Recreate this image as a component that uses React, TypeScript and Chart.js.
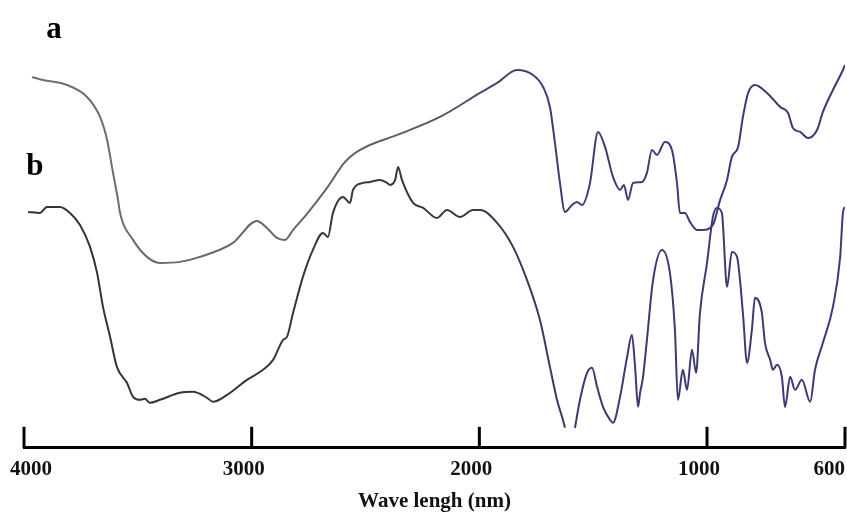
import React, { useEffect, useRef } from "react";
import { Chart, registerables } from "chart.js";

Chart.register(...registerables);

// Wavenumbers (axis labelled as in the source) and transmittance-like values
const waveA = [3965,3917,3811,3723,3666,3635,3609,3587,3578,3521,3460,3403,3315,3227,3082,2977,2933,2889,2854,2818,2757,2669,2590,2524,2349,2173,1997,1922,1835,1764,1720,1690,1668,1646,1624,1593,1571,1549,1514,1479,1448,1413,1382,1365,1347,1325,1286,1264,1242,1220,1185,1154,1132,1119,1097,1075,1044,1018,983,962,942,928,910,896,881,861,826,788,765,751,730,707,681,664,635,606,600];
const transA = [371,368,363,351,331,308,275,248,235,208,191,185,186,191,205,227,220,210,208,218,234,260,286,298,314,331,355,365,378,373,361,341,305,265,236,243,246,243,265,316,301,271,258,263,248,265,266,275,298,293,306,298,265,235,235,226,218,218,223,248,268,291,301,331,355,363,355,341,335,320,316,310,318,336,358,378,383];

const waveB = [3982,3930,3899,3842,3798,3754,3710,3679,3653,3622,3592,3548,3521,3490,3469,3447,3403,3315,3258,3196,3170,3108,3021,2950,2906,2862,2845,2818,2775,2731,2687,2665,2643,2599,2568,2555,2511,2480,2436,2406,2392,2370,2357,2340,2291,2247,2186,2142,2085,2028,1997,1922,1852,1791,1734,1690,1659,1633,1624,1600,1580,1558,1527,1505,1483,1457,1426,1413,1382,1351,1330,1316,1303,1294,1281,1264,1237,1198,1163,1141,1128,1106,1088,1066,1048,1031,1000,983,971,957,942,928,913,896,884,870,861,841,832,817,809,797,783,774,759,745,725,701,687,664,635,614,606,600];
const transB = [236,235,241,241,235,223,201,175,141,111,81,65,51,48,49,45,48,55,56,50,46,53,68,78,88,108,111,135,171,198,215,211,235,251,245,258,265,266,268,265,263,268,281,268,245,240,230,238,231,238,238,225,201,168,128,81,48,28,20,null,20,48,75,80,61,41,28,25,51,91,113,81,41,55,71,108,168,198,175,118,48,78,58,98,75,135,185,231,240,235,161,196,191,135,85,118,150,135,105,88,78,83,71,41,71,58,68,46,78,105,141,191,235,241];

const tickWaves = [4000, 3000, 2000, 1000, 600];
const seriesLabels = ["a", "b"];
const xTitle = "Wave lengh (nm)";

// The printed axis is compressed differently below 1000
const BREAK = 1000;
const LOW_FACTOR = 1.515;
const toAxis = (w: number) => (w >= BREAK ? 4000 - w : 4000 - BREAK + (BREAK - w) * LOW_FACTOR);
const AXIS_MAX = toAxis(600);

const SERIF = '"Liberation Serif", "Times New Roman", serif';

function gradient(chart: any, stops: [number, string][]) {
  const area = chart.chartArea;
  if (!area) return stops[0][1];
  const g = chart.ctx.createLinearGradient(area.left, 0, area.right, 0);
  stops.forEach(([p, c]) => g.addColorStop(p, c));
  return g;
}

const axisPlugin = {
  id: "ftirAxis",
  afterDraw(chart: any) {
    const { ctx, scales } = chart;
    const x = scales.x;
    const y = scales.y;
    const bottom = chart.chartArea.bottom;
    ctx.save();
    ctx.strokeStyle = "#000";
    ctx.lineWidth = 3;
    ctx.fillStyle = "#111";
    ctx.font = `bold 21px ${SERIF}`;
    ctx.textBaseline = "middle";
    ctx.textAlign = "left";
    tickWaves.forEach((w) => {
      const px = x.getPixelForValue(toAxis(w));
      ctx.beginPath();
      ctx.moveTo(px, bottom);
      ctx.lineTo(px, bottom - 21);
      ctx.stroke();
      const label = String(w);
      const tw = ctx.measureText(label).width;
      let left = px - 8 - tw / 2;
      left = Math.max(10, Math.min(left, x.right - tw));
      ctx.fillText(label, left, bottom + 22);
    });
    // series labels
    ctx.font = `bold 31px ${SERIF}`;
    ctx.textBaseline = "alphabetic";
    ctx.textAlign = "center";
    ctx.fillStyle = "#000";
    ctx.fillText(seriesLabels[0], x.getPixelForValue(toAxis(3868)), y.getPixelForValue(410));
    ctx.fillText(seriesLabels[1], x.getPixelForValue(toAxis(3952)), y.getPixelForValue(273));
    ctx.restore();
  },
};

export default function App() {
  const ref = useRef<HTMLCanvasElement | null>(null);
  useEffect(() => {
    if (!ref.current) return;
    const dataA = waveA.map((w, i) => ({ x: toAxis(w), y: transA[i] }));
    const dataB = waveB.map((w, i) => ({ x: toAxis(w), y: transB[i] }));
    const chart = new Chart(ref.current, {
      type: "line",
      data: {
        datasets: [
          {
            label: seriesLabels[0],
            data: dataA as any,
            borderColor: (c: any) =>
              gradient(c.chart, [
                [0, "#707070"],
                [0.45, "#606068"],
                [0.62, "#3e3e72"],
                [1, "#38387a"],
              ]),
            borderWidth: 2,
            pointRadius: 0,
            cubicInterpolationMode: "monotone",
          },
          {
            label: seriesLabels[1],
            data: dataB as any,
            borderColor: (c: any) =>
              gradient(c.chart, [
                [0, "#333333"],
                [0.5, "#38383c"],
                [0.68, "#3a3a70"],
                [1, "#3a3a7c"],
              ]),
            borderWidth: 2,
            pointRadius: 0,
            cubicInterpolationMode: "monotone",
            spanGaps: false,
          },
        ],
      },
      options: {
        responsive: false,
        animation: false,
        layout: { padding: { left: 24, right: 2, top: 0, bottom: 0 } },
        plugins: { legend: { display: false }, tooltip: { enabled: false } },
        scales: {
          x: {
            type: "linear",
            min: 0,
            max: AXIS_MAX,
            grid: { display: false, drawTicks: false },
            border: { display: true, color: "#000", width: 3 },
            ticks: { display: false },
            afterBuildTicks: (scale: any) => {
              scale.ticks = tickWaves.map((w) => ({ value: toAxis(w) }));
            },
            title: {
              display: true,
              text: xTitle,
              color: "#111",
              font: { family: SERIF, size: 21, weight: "bold" },
              padding: { top: 41, bottom: 1 },
            },
          },
          y: { display: false, min: 0, max: 448 },
        },
      },
      plugins: [axisPlugin],
    });
    return () => chart.destroy();
  }, []);
  return (
    <div style={{ position: "absolute", left: 0, top: 0, width: 847, height: 515, background: "#fff" }}>
      <canvas ref={ref} width={847} height={515} style={{ display: "block" }} />
    </div>
  );
}
